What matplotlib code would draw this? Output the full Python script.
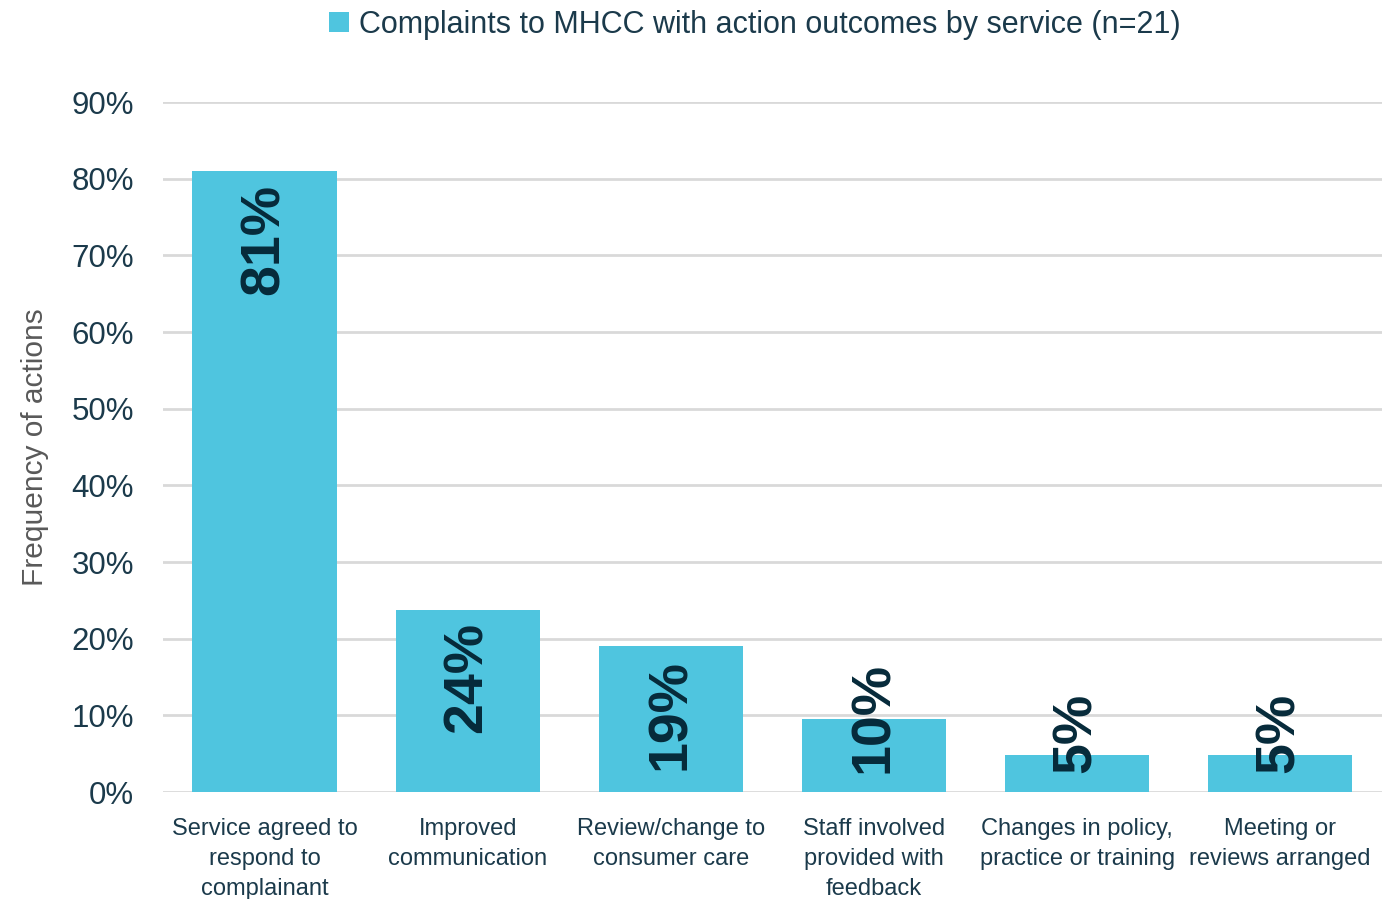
import matplotlib
matplotlib.use("Agg")
import matplotlib.pyplot as plt
from matplotlib.patches import Patch

categories = [
    "Service agreed to\nrespond to\ncomplainant",
    "Improved\ncommunication",
    "Review/change to\nconsumer care",
    "Staff involved\nprovided with\nfeedback",
    "Changes in policy,\npractice or training",
    "Meeting or\nreviews arranged",
]
values = [81.0, 23.8, 19.0, 9.5, 4.8, 4.8]
yticks = [0, 10, 20, 30, 40, 50, 60, 70, 80, 90]
series_name = "Complaints to MHCC with action outcomes by service (n=21)"

bar_color = "#4FC5DF"
text_color = "#1B3A4B"
label_color = "#062A3A"
grid_color = "#D9D9D9"

plt.rcParams["font.family"] = ["Liberation Sans", "DejaVu Sans"]

fig = plt.figure(figsize=(13.85, 8.99), dpi=100)
ax = fig.add_axes([0.1177, 0.119, 0.880, 0.7675])

x = list(range(len(categories)))
ax.bar(x, values, width=0.71, color=bar_color, zorder=3)

ax.set_ylim(0, 90)
ax.set_xlim(-0.5, len(categories) - 0.5)
ax.set_yticks(yticks)
ax.set_yticklabels([f"{t}%" for t in yticks], fontsize=22.5, color=text_color)
ax.set_xticks(x)
ax.set_xticklabels(categories, fontsize=17, color=text_color, linespacing=1.45)
ax.tick_params(axis="both", length=0)
ax.tick_params(axis="x", pad=19)
ax.tick_params(axis="y", pad=21)
ax.grid(axis="y", color=grid_color, linewidth=2, zorder=0)
for s in ax.spines.values():
    s.set_visible(False)

ax.set_ylabel("Frequency of actions", fontsize=21.5, color="#595959", labelpad=16)

# value labels inside the bars, pushed up from the base when the bar is short
fig.canvas.draw()
renderer = fig.canvas.get_renderer()
for xi, v in zip(x, values):
    t = ax.annotate(f"{round(v)}%", xy=(xi, v), xytext=(0, -9), textcoords="offset points",
                    rotation=90, ha="center", va="top", fontsize=40, fontweight="bold",
                    color=label_color, zorder=4)
    bb = t.get_window_extent(renderer)
    base = ax.transData.transform((xi, 0))[1]
    if bb.y0 - base < 20:
        t.remove()
        ax.annotate(f"{round(v)}%", xy=(xi, 0), xytext=(0, 14), textcoords="offset points",
                    rotation=90, ha="center", va="bottom", fontsize=40, fontweight="bold",
                    color=label_color, zorder=4)

handle = Patch(facecolor=bar_color, edgecolor="none")
fig.legend([handle], [series_name], loc="upper center", bbox_to_anchor=(0.545, 1.02),
           frameon=False, fontsize=22, handlelength=0.65, handleheight=0.65,
           handletextpad=0.35, labelcolor=text_color)

fig.savefig("out.png", dpi=100)
